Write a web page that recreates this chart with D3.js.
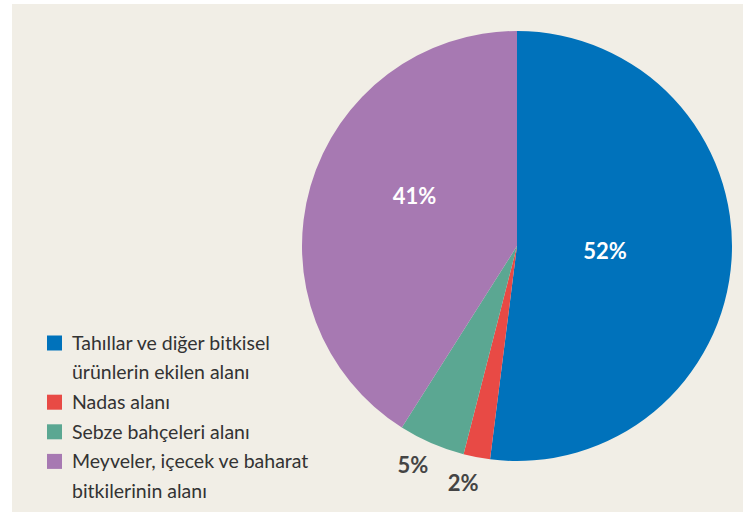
<!DOCTYPE html>
<html>
<head>
<meta charset="utf-8">
<script src="https://cdn.jsdelivr.net/npm/d3@7"></script>
<style>
  html, body { margin: 0; padding: 0; background: #fff; }
  svg { display: block; }
  text { font-family: Lato, "Open Sans", sans-serif; }
</style>
</head>
<body>
<div id="chart"></div>
<script>
const categories = [
  ['Tahıllar ve diğer bitkisel', 'ürünlerin ekilen alanı'],
  ['Nadas alanı'],
  ['Sebze bahçeleri alanı'],
  ['Meyveler, içecek ve baharat', 'bitkilerinin alanı']
];
const values = [52, 2, 5, 41];
const valueLabels = ['52%', '2%', '5%', '41%'];
const colors = ['#0072bb', '#e84a45', '#5ba792', '#a779b2'];

const width = 743;
const height = 512;
const cx = 517;
const cy = 246;
const radius = 215;

// label placement per slice: distance from centre (x radius) and angle shift (rad)
const labelPlace = [
  { r: 0.41, shift: 0 },
  { r: 1.13, shift: 0.035 },
  { r: 1.13, shift: 0.035 },
  { r: 0.53, shift: 0.17 }
];

const svg = d3.select('#chart').append('svg')
    .attr('width', width)
    .attr('height', height);

// panel background
svg.append('rect')
  .attr('x', 12)
  .attr('y', 4)
  .attr('width', width - 12)
  .attr('height', height - 4)
  .attr('fill', '#f1eee6');

const pie = d3.pie().sort(null)(values);
const arc = d3.arc().innerRadius(0).outerRadius(radius);

const g = svg.append('g')
    .attr('transform', `translate(${cx}, ${cy})`);

g.selectAll('path')
  .data(pie)
  .enter()
  .append('path')
  .attr('d', arc)
  .attr('fill', (d, i) => colors[i]);

g.selectAll('.lbl')
  .data(pie)
  .enter()
  .append('text')
  .attr('class', 'lbl')
  .attr('transform', (d, i) => {
    const a = (d.startAngle + d.endAngle) / 2 + labelPlace[i].shift;
    const r = radius * labelPlace[i].r;
    return `translate(${r * Math.sin(a)}, ${-r * Math.cos(a)})`;
  })
  .attr('text-anchor', 'middle')
  .attr('dy', '0.35em')
  .attr('font-size', 22)
  .attr('font-weight', 'bold')
  .attr('fill', (d) => d.data > 10 ? '#fff' : '#444')
  .text((d, i) => valueLabels[i]);

// legend
const legend = svg.append('g')
    .attr('transform', 'translate(47, 343)');
const lineH = 29.6;
let row = 0;
categories.forEach((lines, i) => {
  legend.append('rect')
    .attr('x', 0)
    .attr('y', row * lineH - 7.5)
    .attr('width', 15)
    .attr('height', 15)
    .attr('fill', colors[i]);
  lines.forEach((t) => {
    legend.append('text')
      .attr('x', 25)
      .attr('y', row * lineH)
      .attr('dy', '0.35em')
      .attr('font-size', 19.5)
      .attr('fill', '#333')
      .text(t);
    row += 1;
  });
});
</script>
</body>
</html>
